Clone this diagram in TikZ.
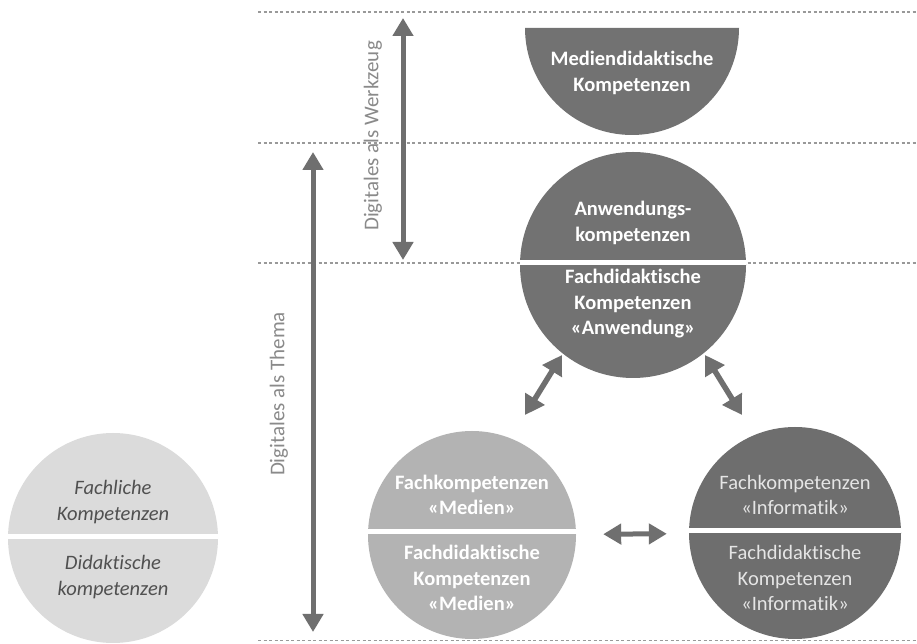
\documentclass[tikz,border=0pt]{standalone}
\usepackage{fontspec}
\setmainfont{Carlito}[Ligatures=NoCommon]
\usetikzlibrary{arrows.meta}
\definecolor{darkg}{HTML}{727272}
\definecolor{infog}{HTML}{6E6E6E}
\definecolor{midg}{HTML}{B3B3B3}
\definecolor{lightg}{HTML}{DBDBDB}
\definecolor{arrowg}{HTML}{6F6F6F}
\definecolor{dashg}{HTML}{999999}
\definecolor{labelg}{HTML}{8A8A8A}
\definecolor{italg}{HTML}{505050}
\begin{document}
\begin{tikzpicture}[x=1pt,y=1pt,
  disc/.style={circle, inner sep=0pt, draw=none, minimum size=#1},
  sepline/.style={white, line width=5pt},
  dashline/.style={dashg, line width=1.4pt, dash pattern=on 3pt off 2.5pt},
  biarrow/.style={arrowg, line width=5pt, {Triangle[width=20pt,length=18pt]}-{Triangle[width=20pt,length=18pt]}},
  diagarrow/.style={arrowg, line width=5.5pt, {Triangle[width=22pt,length=19pt]}-{Triangle[width=22pt,length=19pt]}},
  whitetxt/.style={text=white, font=\fontsize{20.5}{25.5}\selectfont\bfseries, align=center, inner sep=0pt},
  infotxt/.style={text=white!90!black, font=\fontsize{20.5}{25.5}\selectfont, align=center, inner sep=0pt},
  italtxt/.style={text=italg, font=\fontsize{20.5}{25.5}\selectfont\itshape, align=center, inner sep=0pt},
  sidelabel/.style={text=labelg, font=\fontsize{21}{24}\selectfont, rotate=90, inner sep=0pt}
]
\useasboundingbox (0,0) rectangle (917,644);
\fill[white] (0,0) rectangle (917,644);

% dashed horizontal lines
\coordinate (d1l) at (258,632); \coordinate (d1r) at (917,632);
\coordinate (d2l) at (258,501); \coordinate (d2r) at (917,501);
\coordinate (d3l) at (258,381); \coordinate (d3r) at (917,381);
\coordinate (d4l) at (258,3.5); \coordinate (d4r) at (917,3.5);
\draw[dashline] (d1l) -- (d1r);
\draw[dashline] (d2l) -- (d2r);
\draw[dashline] (d3l) -- (d3r);
\draw[dashline] (d4l) -- (d4r);

% vertical arrows and labels
\coordinate (wtop) at (403,626); \coordinate (wbot) at (403,384);
\draw[biarrow] (wtop) -- (wbot);
\node[sidelabel] (wlabel) at (373,508) {Digitales als Werkzeug};
\coordinate (ttop) at (313,492); \coordinate (tbot) at (313,12);
\draw[biarrow] (ttop) -- (tbot);
\node[sidelabel] (tlabel) at (279,250) {Digitales als Thema};

% Mediendidaktische half disc
\fill[darkg] (525,616) arc[start angle=180, end angle=360, radius=107] -- cycle;
\node[whitetxt] (medtxt) at (632,571) {Mediendidaktische\\Kompetenzen};

% Anwendung circle
\node[disc=226pt, fill=darkg] (anw) at (633,379) {};
\draw[sepline] ([yshift=2pt]anw.west) -- ([yshift=2pt]anw.east);
\node[whitetxt] (anwup) at (633,421) {Anwendungs-\\kompetenzen};
\node[whitetxt] (anwlow) at (633,340) {Fachdidaktische\\Kompetenzen\\«Anwendung»};

% left circle
\node[disc=210pt, fill=lightg] (fach) at (113,106) {};
\draw[sepline] ([yshift=1pt]fach.west) -- ([yshift=1pt]fach.east);
\node[italtxt] (fachup) at (113,142) {Fachliche\\Kompetenzen};
\node[italtxt] (fachlow) at (113,67) {Didaktische\\kompetenzen};

% Medien circle
\node[disc=208pt, fill=midg] (med) at (472,109) {};
\draw[sepline] ([yshift=3pt]med.west) -- ([yshift=3pt]med.east);
\node[whitetxt] (medup) at (472,149) {Fachkompetenzen\\«Medien»};
\node[whitetxt] (medlow) at (472,66) {Fachdidaktische\\Kompetenzen\\«Medien»};

% Informatik circle
\node[disc=212pt, fill=infog] (inf) at (795,111) {};
\draw[sepline] ([yshift=2pt]inf.west) -- ([yshift=2pt]inf.east);
\node[infotxt] (infup) at (795,149) {Fachkompetenzen\\«Informatik»};
\node[infotxt] (inflow) at (795,66) {Fachdidaktische\\Kompetenzen\\«Informatik»};

% connectors
\coordinate (aml) at (562,289); \coordinate (mau) at (525,229);
\coordinate (air) at (705,289); \coordinate (iau) at (742,229);
\draw[diagarrow] (aml) -- (mau);
\draw[diagarrow] (air) -- (iau);
\draw[biarrow, shorten <=27pt, shorten >=22pt] (med) -- (inf);
\end{tikzpicture}
\end{document}
